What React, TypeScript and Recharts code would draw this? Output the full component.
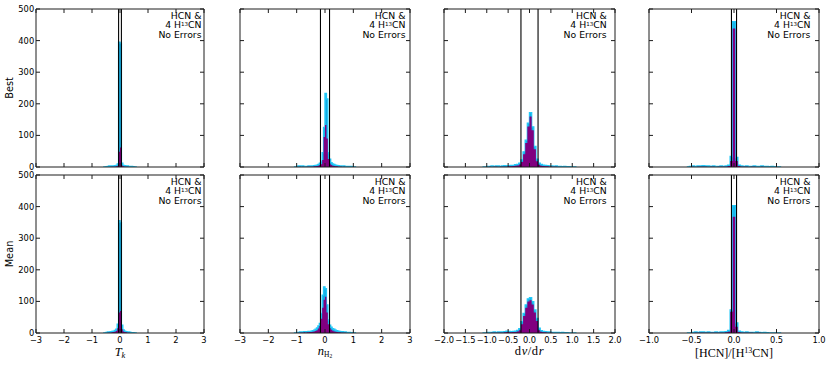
import React from 'react';
import { ComposedChart, Area, Line, XAxis, YAxis, ReferenceLine } from 'recharts';

// ---------- data ----------
const rowNames = ['Best', 'Mean'];
const yTicks = [0, 100, 200, 300, 400, 500];

// T_k column
const tkTicks = [-3, -2, -1, 0, 1, 2, 3];
const tkEdges = [-0.6, -0.55, -0.5, -0.45, -0.4, -0.35, -0.3, -0.25, -0.2, -0.15, -0.1, -0.05, 0, 0.05, 0.1, 0.15, 0.2, 0.25, 0.3, 0.35, 0.4, 0.45, 0.5, 0.55, 0.6];
const tkBestCyan = [0, 0, 1, 2, 3, 2, 3, 3, 4, 5, 10, 395, 392, 12, 5, 4, 3, 3, 2, 2, 2, 1, 0, 0];
const tkBestPurple = [0, 0, 0, 0, 0, 1, 1, 1, 1, 2, 4, 48, 62, 5, 2, 1, 1, 1, 0, 0, 0, 0, 0, 0];
const tkMeanCyan = [0, 0, 2, 3, 3, 4, 5, 6, 8, 12, 28, 355, 350, 25, 10, 6, 4, 3, 3, 2, 1, 1, 0, 0];
const tkMeanPurple = [0, 0, 0, 1, 1, 1, 2, 3, 4, 6, 15, 65, 70, 12, 5, 3, 2, 1, 1, 0, 0, 0, 0, 0];
const tkLimits = [-0.05, 0.05];

// n_H2 column
const nh2Ticks = [-3, -2, -1, 0, 1, 2, 3];
const nh2Edges = [-1.1, -1.05, -1.0, -0.95, -0.9, -0.85, -0.8, -0.75, -0.7, -0.65, -0.6, -0.55, -0.5, -0.45, -0.4, -0.35, -0.3, -0.25, -0.2, -0.15, -0.1, -0.05, 0, 0.05, 0.1, 0.15, 0.2, 0.25, 0.3, 0.35, 0.4, 0.45, 0.5, 0.55, 0.6, 0.65, 0.7, 0.75, 0.8, 0.85, 0.9, 0.95, 1.0, 1.05, 1.1];
const nh2BestCyan = [0, 0, 2, 3, 3, 2, 3, 2, 2, 2, 3, 2, 3, 3, 4, 5, 6, 8, 12, 18, 45, 125, 233, 215, 45, 25, 14, 10, 8, 6, 5, 4, 3, 3, 2, 3, 2, 2, 2, 1, 2, 1, 0, 0];
const nh2BestPurple = [0, 0, 0, 0, 1, 0, 1, 0, 0, 1, 1, 1, 1, 1, 2, 2, 3, 4, 6, 9, 22, 95, 133, 90, 25, 10, 6, 4, 3, 2, 2, 1, 1, 1, 0, 1, 0, 0, 0, 0, 0, 0, 0, 0];
const nh2MeanCyan = [0, 0, 2, 2, 3, 3, 3, 4, 3, 4, 5, 5, 6, 7, 9, 12, 16, 22, 30, 62, 120, 146, 140, 89, 41, 25, 18, 14, 12, 9, 7, 6, 5, 4, 4, 3, 3, 2, 2, 2, 1, 1, 0, 0];
const nh2MeanPurple = [0, 0, 0, 1, 1, 1, 1, 2, 1, 2, 2, 3, 3, 4, 5, 6, 9, 14, 22, 45, 80, 105, 115, 65, 28, 15, 10, 7, 5, 4, 3, 2, 2, 1, 1, 1, 1, 0, 0, 0, 0, 0, 0, 0];
const nh2Limits = [-0.16, 0.16];

// dv/dr column
const dvTicks = [-2, -1.5, -1, -0.5, 0, 0.5, 1, 1.5, 2];
const dvEdges = nh2Edges;
const dvBestCyan = [0, 0, 2, 2, 3, 2, 3, 3, 2, 3, 4, 3, 4, 5, 5, 7, 8, 12, 22, 48, 85, 139, 172, 127, 65, 25, 12, 8, 6, 5, 4, 3, 3, 2, 3, 2, 2, 1, 2, 1, 1, 0, 0, 0];
const dvBestPurple = [0, 0, 0, 1, 0, 1, 1, 0, 1, 1, 1, 1, 2, 2, 3, 4, 5, 8, 16, 40, 76, 128, 160, 116, 56, 18, 7, 4, 3, 2, 2, 1, 1, 1, 1, 0, 0, 0, 0, 0, 0, 0, 0, 0];
const dvMeanCyan = [0, 0, 2, 2, 2, 3, 2, 3, 3, 3, 4, 6, 5, 4, 5, 6, 8, 14, 36, 62, 89, 108, 112, 99, 73, 46, 15, 7, 5, 4, 3, 3, 2, 2, 2, 2, 1, 2, 1, 1, 0, 0, 0, 0];
const dvMeanPurple = [0, 0, 0, 0, 1, 1, 1, 1, 1, 1, 2, 3, 2, 2, 3, 3, 5, 9, 28, 54, 80, 100, 104, 90, 65, 38, 9, 4, 2, 2, 1, 1, 1, 0, 0, 0, 0, 0, 0, 0, 0, 0, 0, 0];
const dvLimits = [-0.2, 0.2];

// [HCN]/[H13CN] column
const ratioTicks = [-1, -0.5, 0, 0.5, 1];
const ratioEdges = [-0.555, -0.525, -0.495, -0.465, -0.435, -0.405, -0.375, -0.345, -0.315, -0.285, -0.255, -0.225, -0.195, -0.165, -0.135, -0.105, -0.075, -0.045, -0.015, 0.015, 0.045, 0.075, 0.105, 0.135, 0.165, 0.195, 0.225, 0.255, 0.285, 0.315, 0.345, 0.375, 0.405, 0.435, 0.465, 0.495, 0.525, 0.555];
const ratioBestCyan = [0, 2, 3, 2, 3, 3, 4, 3, 3, 2, 3, 2, 2, 3, 2, 3, 6, 33, 460, 30, 6, 3, 2, 3, 2, 2, 3, 2, 2, 3, 2, 2, 1, 2, 1, 0, 0];
const ratioBestPurple = [0, 0, 1, 0, 1, 1, 1, 1, 0, 1, 1, 0, 1, 1, 1, 1, 3, 19, 438, 19, 3, 1, 1, 1, 0, 1, 1, 0, 0, 1, 0, 0, 0, 0, 0, 0, 0];
const ratioMeanCyan = [0, 0, 2, 3, 2, 3, 3, 2, 3, 2, 2, 3, 2, 3, 3, 4, 8, 73, 403, 32, 6, 3, 2, 3, 2, 2, 2, 3, 2, 1, 2, 1, 0, 0, 0, 0, 0];
const ratioMeanPurple = [0, 0, 0, 1, 1, 1, 1, 1, 1, 1, 1, 1, 1, 1, 1, 2, 4, 67, 368, 20, 3, 1, 1, 1, 1, 1, 0, 1, 1, 0, 0, 0, 0, 0, 0, 0, 0];
const ratioLimits = [-0.03, 0.03];

// ---------- style / layout ----------
const CYAN_FILL = '#14a8e0';
const CYAN_EDGE = '#22c8f8';
const PURPLE = '#800080';
const AX = '#1c1c1c';
const SANS = 'DejaVu Sans, Verdana, sans-serif';
const SERIF = 'Liberation Serif, Times New Roman, serif';

const colLefts = [36, 240, 444, 649];
const colWidths = [168, 170, 171, 170];
const rowTops = [9, 175];
const plotH = 158;
const annPad = [2.5, 4.5, 8.3, 8.6];

const minusFmt = (v: number) => (v < 0 ? '\u2212' + String(Math.abs(v)) : String(v));
const minusFmt1 = (v: number) => (v < 0 ? '\u2212' + Math.abs(v).toFixed(1) : v.toFixed(1));

const columns = [
  { edges: tkEdges, domain: [-3, 3], ticks: tkTicks, fmt: minusFmt, limits: tkLimits, series: [[tkBestCyan, tkBestPurple], [tkMeanCyan, tkMeanPurple]] },
  { edges: nh2Edges, domain: [-3, 3], ticks: nh2Ticks, fmt: minusFmt, limits: nh2Limits, series: [[nh2BestCyan, nh2BestPurple], [nh2MeanCyan, nh2MeanPurple]] },
  { edges: dvEdges, domain: [-2, 2], ticks: dvTicks, fmt: minusFmt1, limits: dvLimits, series: [[dvBestCyan, dvBestPurple], [dvMeanCyan, dvMeanPurple]] },
  { edges: ratioEdges, domain: [-1, 1], ticks: ratioTicks, fmt: minusFmt1, limits: ratioLimits, series: [[ratioBestCyan, ratioBestPurple], [ratioMeanCyan, ratioMeanPurple]] },
];

// ---------- tick renderers ----------
const bottomTick = (show: boolean, fmt: (v: number) => string) => (p: any) => (
  <g>
    <line x1={p.x} x2={p.x} y1={p.y} y2={p.y - 4} stroke={AX} strokeWidth={1} />
    {show && (
      <text x={p.x} y={p.y + 9.8} textAnchor="middle" fontFamily={SANS} fontSize={8.3} fill="#000">
        {fmt(p.payload.value)}
      </text>
    )}
  </g>
);
const topTick = (p: any) => <line x1={p.x} x2={p.x} y1={p.y} y2={p.y + 4} stroke={AX} strokeWidth={1} />;
const leftTick = (show: boolean) => (p: any) => (
  <g>
    <line x1={p.x} x2={p.x + 4} y1={p.y} y2={p.y} stroke={AX} strokeWidth={1} />
    {show && (
      <text x={p.x - 1.8} y={p.y + 3} textAnchor="end" fontFamily={SANS} fontSize={8.3} fill="#000">
        {String(p.payload.value)}
      </text>
    )}
  </g>
);
const rightTick = (p: any) => <line x1={p.x} x2={p.x - 4} y1={p.y} y2={p.y} stroke={AX} strokeWidth={1} />;

type PanelProps = {
  left: number; top: number; width: number; height: number;
  edges: number[]; cyan: number[]; purple: number[];
  domain: number[]; ticks: number[]; fmt: (v: number) => string; limits: number[];
  xLabels: boolean; yLabels: boolean;
};

function Panel(props: PanelProps) {
  const { left, top, width, height, edges, cyan, purple, domain, ticks, fmt, limits, xLabels, yLabels } = props;
  const L = 30, R = 6, T = 4, B = 14, A = 1;
  const data = edges.map((x, i) => ({ x, c: i < cyan.length ? cyan[i] : 0, p: i < purple.length ? purple[i] : 0 }));
  const axisLine = { stroke: AX, strokeWidth: 1 };
  return (
    <div style={{ position: 'absolute', left: left - L - A, top: top - T - A }}>
      <ComposedChart width={width + L + R + 2 * A} height={height + T + B + 2 * A} data={data}
        margin={{ top: T, right: R, bottom: B, left: L }}>
        <XAxis xAxisId={0} dataKey="x" type="number" domain={domain} ticks={ticks} interval={0} allowDataOverflow
          height={A} tickSize={0} tickMargin={0} tickLine={false} axisLine={axisLine} tick={bottomTick(xLabels, fmt)} />
        <XAxis xAxisId="top" dataKey="x" orientation="top" type="number" domain={domain} ticks={ticks} interval={0} allowDataOverflow
          height={A} tickSize={0} tickMargin={0} tickLine={false} axisLine={axisLine} tick={topTick} />
        <YAxis yAxisId={0} type="number" domain={[0, 500]} ticks={yTicks} interval={0} allowDataOverflow
          width={A} tickSize={0} tickMargin={0} tickLine={false} axisLine={axisLine} tick={leftTick(yLabels)} />
        <YAxis yAxisId="right" orientation="right" type="number" domain={[0, 500]} ticks={yTicks} interval={0} allowDataOverflow
          width={A} tickSize={0} tickMargin={0} tickLine={false} axisLine={axisLine} tick={rightTick} />
        <Area type="stepAfter" dataKey="c" fill={CYAN_FILL} fillOpacity={1} stroke={CYAN_EDGE} strokeWidth={1.4}
          dot={false} activeDot={false} isAnimationActive={false} />
        <Area type="stepAfter" dataKey="p" fill={PURPLE} fillOpacity={1} stroke="none"
          dot={false} activeDot={false} isAnimationActive={false} />
        <Line xAxisId="top" yAxisId="right" type="stepAfter" dataKey="p" stroke="none" strokeWidth={0}
          dot={false} activeDot={false} isAnimationActive={false} legendType="none" />
        {limits.map((v, i) => (
          <ReferenceLine key={i} x={v} stroke="#000" strokeWidth={1.1} />
        ))}
      </ComposedChart>
    </div>
  );
}

function XLabel({ c, x }: { c: number; x: number }) {
  if (c === 0) {
    return (
      <text x={x} y={355.5} textAnchor="middle" fontFamily={SERIF} fontSize={12.5} fill="#000">
        <tspan fontStyle="italic">T</tspan>
        <tspan fontStyle="italic" fontSize={8.5} dy={2.5}>k</tspan>
      </text>
    );
  }
  if (c === 1) {
    return (
      <text x={x} y={354.5} textAnchor="middle" fontFamily={SERIF} fontSize={12.5} fill="#000">
        <tspan fontStyle="italic">n</tspan>
        <tspan fontSize={7.5} dy={2.5}>H</tspan>
        <tspan fontSize={5.5} dy={1.2}>2</tspan>
      </text>
    );
  }
  if (c === 2) {
    return (
      <text x={x} y={355} textAnchor="middle" fontFamily={SERIF} fontSize={12.5} fill="#000" letterSpacing={0.6}>
        <tspan>d</tspan>
        <tspan fontStyle="italic">v</tspan>
        <tspan>/d</tspan>
        <tspan fontStyle="italic">r</tspan>
      </text>
    );
  }
  return (
    <text x={x} y={357} textAnchor="middle" fontFamily={SERIF} fontSize={12} fill="#000">
      <tspan>[HCN]/[H</tspan>
      <tspan fontSize={8} dy={-4.5}>13</tspan>
      <tspan dy={4.5}>CN]</tspan>
    </text>
  );
}

export default function App() {
  const panels: React.ReactNode[] = [];
  const texts: React.ReactNode[] = [];
  rowTops.forEach((top, r) => {
    columns.forEach((col, c) => {
      panels.push(
        <Panel key={`${r}-${c}`} left={colLefts[c]} top={top} width={colWidths[c]} height={plotH}
          edges={col.edges} cyan={col.series[r][0]} purple={col.series[r][1]}
          domain={col.domain} ticks={col.ticks} fmt={col.fmt} limits={col.limits}
          xLabels={r === 1} yLabels={c === 0} />
      );
      const rx = colLefts[c] + colWidths[c] - annPad[c];
      texts.push(
        <g key={`a-${r}-${c}`} fontFamily={SANS} fontSize={9.3} fill="#000">
          <text x={rx} y={top + 10} textAnchor="end">HCN &amp;</text>
          <text x={rx} y={top + 19.4} textAnchor="end">
            <tspan>4 H</tspan>
            <tspan fontSize={5.5} dy={-2.8}>13</tspan>
            <tspan dy={2.8}>CN</tspan>
          </text>
          <text x={rx} y={top + 28.8} textAnchor="end">No Errors</text>
        </g>
      );
    });
    texts.push(
      <text key={`r-${r}`} transform={`translate(13.3, ${top + plotH / 2}) rotate(-90)`} textAnchor="middle"
        fontFamily={SANS} fontSize={9.8} fill="#000">{rowNames[r]}</text>
    );
  });
  columns.forEach((_, c) => {
    texts.push(<XLabel key={`x-${c}`} c={c} x={colLefts[c] + colWidths[c] / 2} />);
  });
  return (
    <div style={{ position: 'absolute', left: 0, top: 0, width: 830, height: 366, background: '#fff', overflow: 'hidden' }}>
      {panels}
      <svg width={830} height={366} style={{ position: 'absolute', left: 0, top: 0, pointerEvents: 'none' }}>
        {texts}
      </svg>
    </div>
  );
}
